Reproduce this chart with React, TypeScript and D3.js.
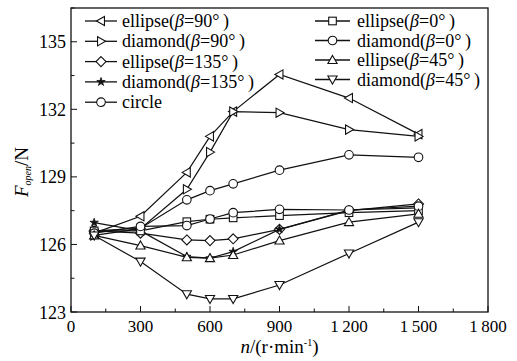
import * as d3 from "d3";
import React from "react";

const speeds = [100, 300, 500, 600, 700, 900, 1200, 1500];

const ellipse90 = [126.5, 127.25, 129.2, 130.8, 131.9, 133.55, 132.5, 130.9];
const diamond90 = [126.4, 126.7, 128.45, 130.1, 131.9, 131.85, 131.1, 130.8];
const ellipse135 = [126.6, 126.5, 126.2, 126.17, 126.25, 126.67, 127.5, 127.8];
const diamond135 = [126.97, 126.6, 125.46, 125.39, 125.68, 126.67, 127.53, 127.62];
const circle = [126.6, 126.72, 127.98, 128.39, 128.69, 129.3, 129.98, 129.87];
const ellipse0 = [126.6, 126.6, 127.01, 127.12, 127.18, 127.28, 127.41, 127.5];
const diamond0 = [126.5, 126.8, 126.84, 127.13, 127.41, 127.56, 127.53, 127.7];
const ellipse45 = [126.4, 125.95, 125.43, 125.39, 125.53, 126.17, 126.99, 127.36];
const diamond45 = [126.4, 125.24, 123.79, 123.58, 123.58, 124.2, 125.6, 126.99];

const xTicks = [0, 300, 600, 900, 1200, 1500, 1800];
const yTicks = [123, 126, 129, 132, 135];

type Marker = "left" | "right" | "diamond" | "star" | "circle" | "square" | "up" | "down";

const series: { name: string; beta?: string; values: number[]; marker: Marker }[] = [
  { name: "ellipse", beta: "90", values: ellipse90, marker: "left" },
  { name: "diamond", beta: "90", values: diamond90, marker: "right" },
  { name: "ellipse", beta: "135", values: ellipse135, marker: "diamond" },
  { name: "diamond", beta: "135", values: diamond135, marker: "star" },
  { name: "circle", values: circle, marker: "circle" },
  { name: "ellipse", beta: "0", values: ellipse0, marker: "square" },
  { name: "diamond", beta: "0", values: diamond0, marker: "circle" },
  { name: "ellipse", beta: "45", values: ellipse45, marker: "up" },
  { name: "diamond", beta: "45", values: diamond45, marker: "down" },
];

const W = 517;
const H = 361;
const margin = { top: 8, right: 29, bottom: 49, left: 71 };

function MarkerShape({ type, x, y }: { type: Marker; x: number; y: number }) {
  const s = 4.6;
  const common = { fill: "#fff", stroke: "#111", strokeWidth: 1.1 };
  switch (type) {
    case "circle":
      return <circle cx={x} cy={y} r={4.3} {...common} />;
    case "square":
      return <rect x={x - 3.8} y={y - 3.8} width={7.6} height={7.6} {...common} />;
    case "diamond":
      return <path d={`M${x},${y - 5}L${x + 5},${y}L${x},${y + 5}L${x - 5},${y}Z`} {...common} />;
    case "up":
      return <path d={`M${x},${y - s}L${x + s},${y + s * 0.75}L${x - s},${y + s * 0.75}Z`} {...common} />;
    case "down":
      return <path d={`M${x},${y + s}L${x + s},${y - s * 0.75}L${x - s},${y - s * 0.75}Z`} {...common} />;
    case "left":
      return <path d={`M${x - s},${y}L${x + s * 0.75},${y - s}L${x + s * 0.75},${y + s}Z`} {...common} />;
    case "right":
      return <path d={`M${x + s},${y}L${x - s * 0.75},${y - s}L${x - s * 0.75},${y + s}Z`} {...common} />;
    case "star": {
      const sym = d3.symbol(d3.symbolStar, 22)();
      return <path d={sym as string} transform={`translate(${x},${y})`} fill="#111" stroke="#111" strokeWidth={0.8} />;
    }
  }
}

function LegendLabel({ name, beta }: { name: string; beta?: string }) {
  if (!beta) return <>{name}</>;
  return (
    <>
      {name}(<tspan fontStyle="italic">β</tspan>={beta}°&#8201;)
    </>
  );
}

export default function App() {
  const iw = W - margin.left - margin.right;
  const ih = H - margin.top - margin.bottom;
  const x = d3.scaleLinear().domain([0, 1800]).range([0, iw]);
  const y = d3.scaleLinear().domain([123, 136.5]).range([ih, 0]);
  const line = d3
    .line<number>()
    .x((_, i) => x(speeds[i]))
    .y((d) => y(d));

  const xMinor = d3.range(0, 1801, 150);
  const yMinor = d3.range(123, 136.6, 1.5);

  const leftLegend = series.slice(0, 5);
  const rightLegend = series.slice(5);

  return (
    <div style={{ position: "absolute", left: 0, top: 0, fontFamily: '"Times New Roman"' }}>
      <svg width={W} height={H} style={{ display: "block" }}>
        <g transform={`translate(${margin.left},${margin.top})`}>
          {series.map((s, k) => (
            <g key={k}>
              <path d={line(s.values) as string} fill="none" stroke="#111" strokeWidth={1.2} />
              {s.values.map((v, i) => (
                <MarkerShape key={i} type={s.marker} x={x(speeds[i])} y={y(v)} />
              ))}
            </g>
          ))}

          {/* axes frame */}
          <rect x={0} y={0} width={iw} height={ih} fill="none" stroke="#111" strokeWidth={1.3} />

          {xMinor.map((t) => {
            const major = t % 300 === 0;
            return <line key={t} x1={x(t)} x2={x(t)} y1={ih} y2={ih - (major ? 6 : 3.5)} stroke="#111" strokeWidth={1} />;
          })}
          {yMinor.map((t) => {
            const major = Math.abs(t % 3) < 0.01;
            return <line key={t} x1={0} x2={major ? 6 : 3.5} y1={y(t)} y2={y(t)} stroke="#111" strokeWidth={1} />;
          })}

          {xTicks.map((t) => (
            <text key={t} x={x(t)} y={ih + 20} textAnchor="middle" fontSize={17}>
              {d3.format(",")(t).replace(",", "\u2009")}
            </text>
          ))}
          {yTicks.map((t) => (
            <text key={t} x={-5} y={y(t) + 6.5} textAnchor="end" fontSize={18}>
              {t}
            </text>
          ))}

          {leftLegend.map((s, i) => {
            const ly = 13 + i * 20.3;
            return (
              <g key={i} transform={`translate(14,${ly})`}>
                <line x1={0} x2={32} y1={0} y2={0} stroke="#111" strokeWidth={1.3} />
                <MarkerShape type={s.marker} x={16} y={0} />
                <text x={37} y={6} fontSize={18}>
                  <LegendLabel name={s.name} beta={s.beta} />
                </text>
              </g>
            );
          })}
          {rightLegend.map((s, i) => {
            const ly = 13 + i * 19.5;
            return (
              <g key={i} transform={`translate(244,${ly})`}>
                <line x1={0} x2={35} y1={0} y2={0} stroke="#111" strokeWidth={1.3} />
                <MarkerShape type={s.marker} x={17.5} y={0} />
                <text x={42} y={6} fontSize={18}>
                  <LegendLabel name={s.name} beta={s.beta} />
                </text>
              </g>
            );
          })}
        </g>

        <text transform="translate(28,172) rotate(-90)" textAnchor="middle" fontSize={19}>
          <tspan fontStyle="italic">F</tspan>
          <tspan fontStyle="italic" fontSize={10} dy={3}>open</tspan>
          <tspan dy={-3}>/N</tspan>
        </text>
        <text x={margin.left + iw / 2} y={H - 8} textAnchor="middle" fontSize={19}>
          <tspan fontStyle="italic">n</tspan>/(r·min
          <tspan fontSize={10} dy={-7}>-1</tspan>
          <tspan dy={7}>)</tspan>
        </text>
      </svg>
    </div>
  );
}
